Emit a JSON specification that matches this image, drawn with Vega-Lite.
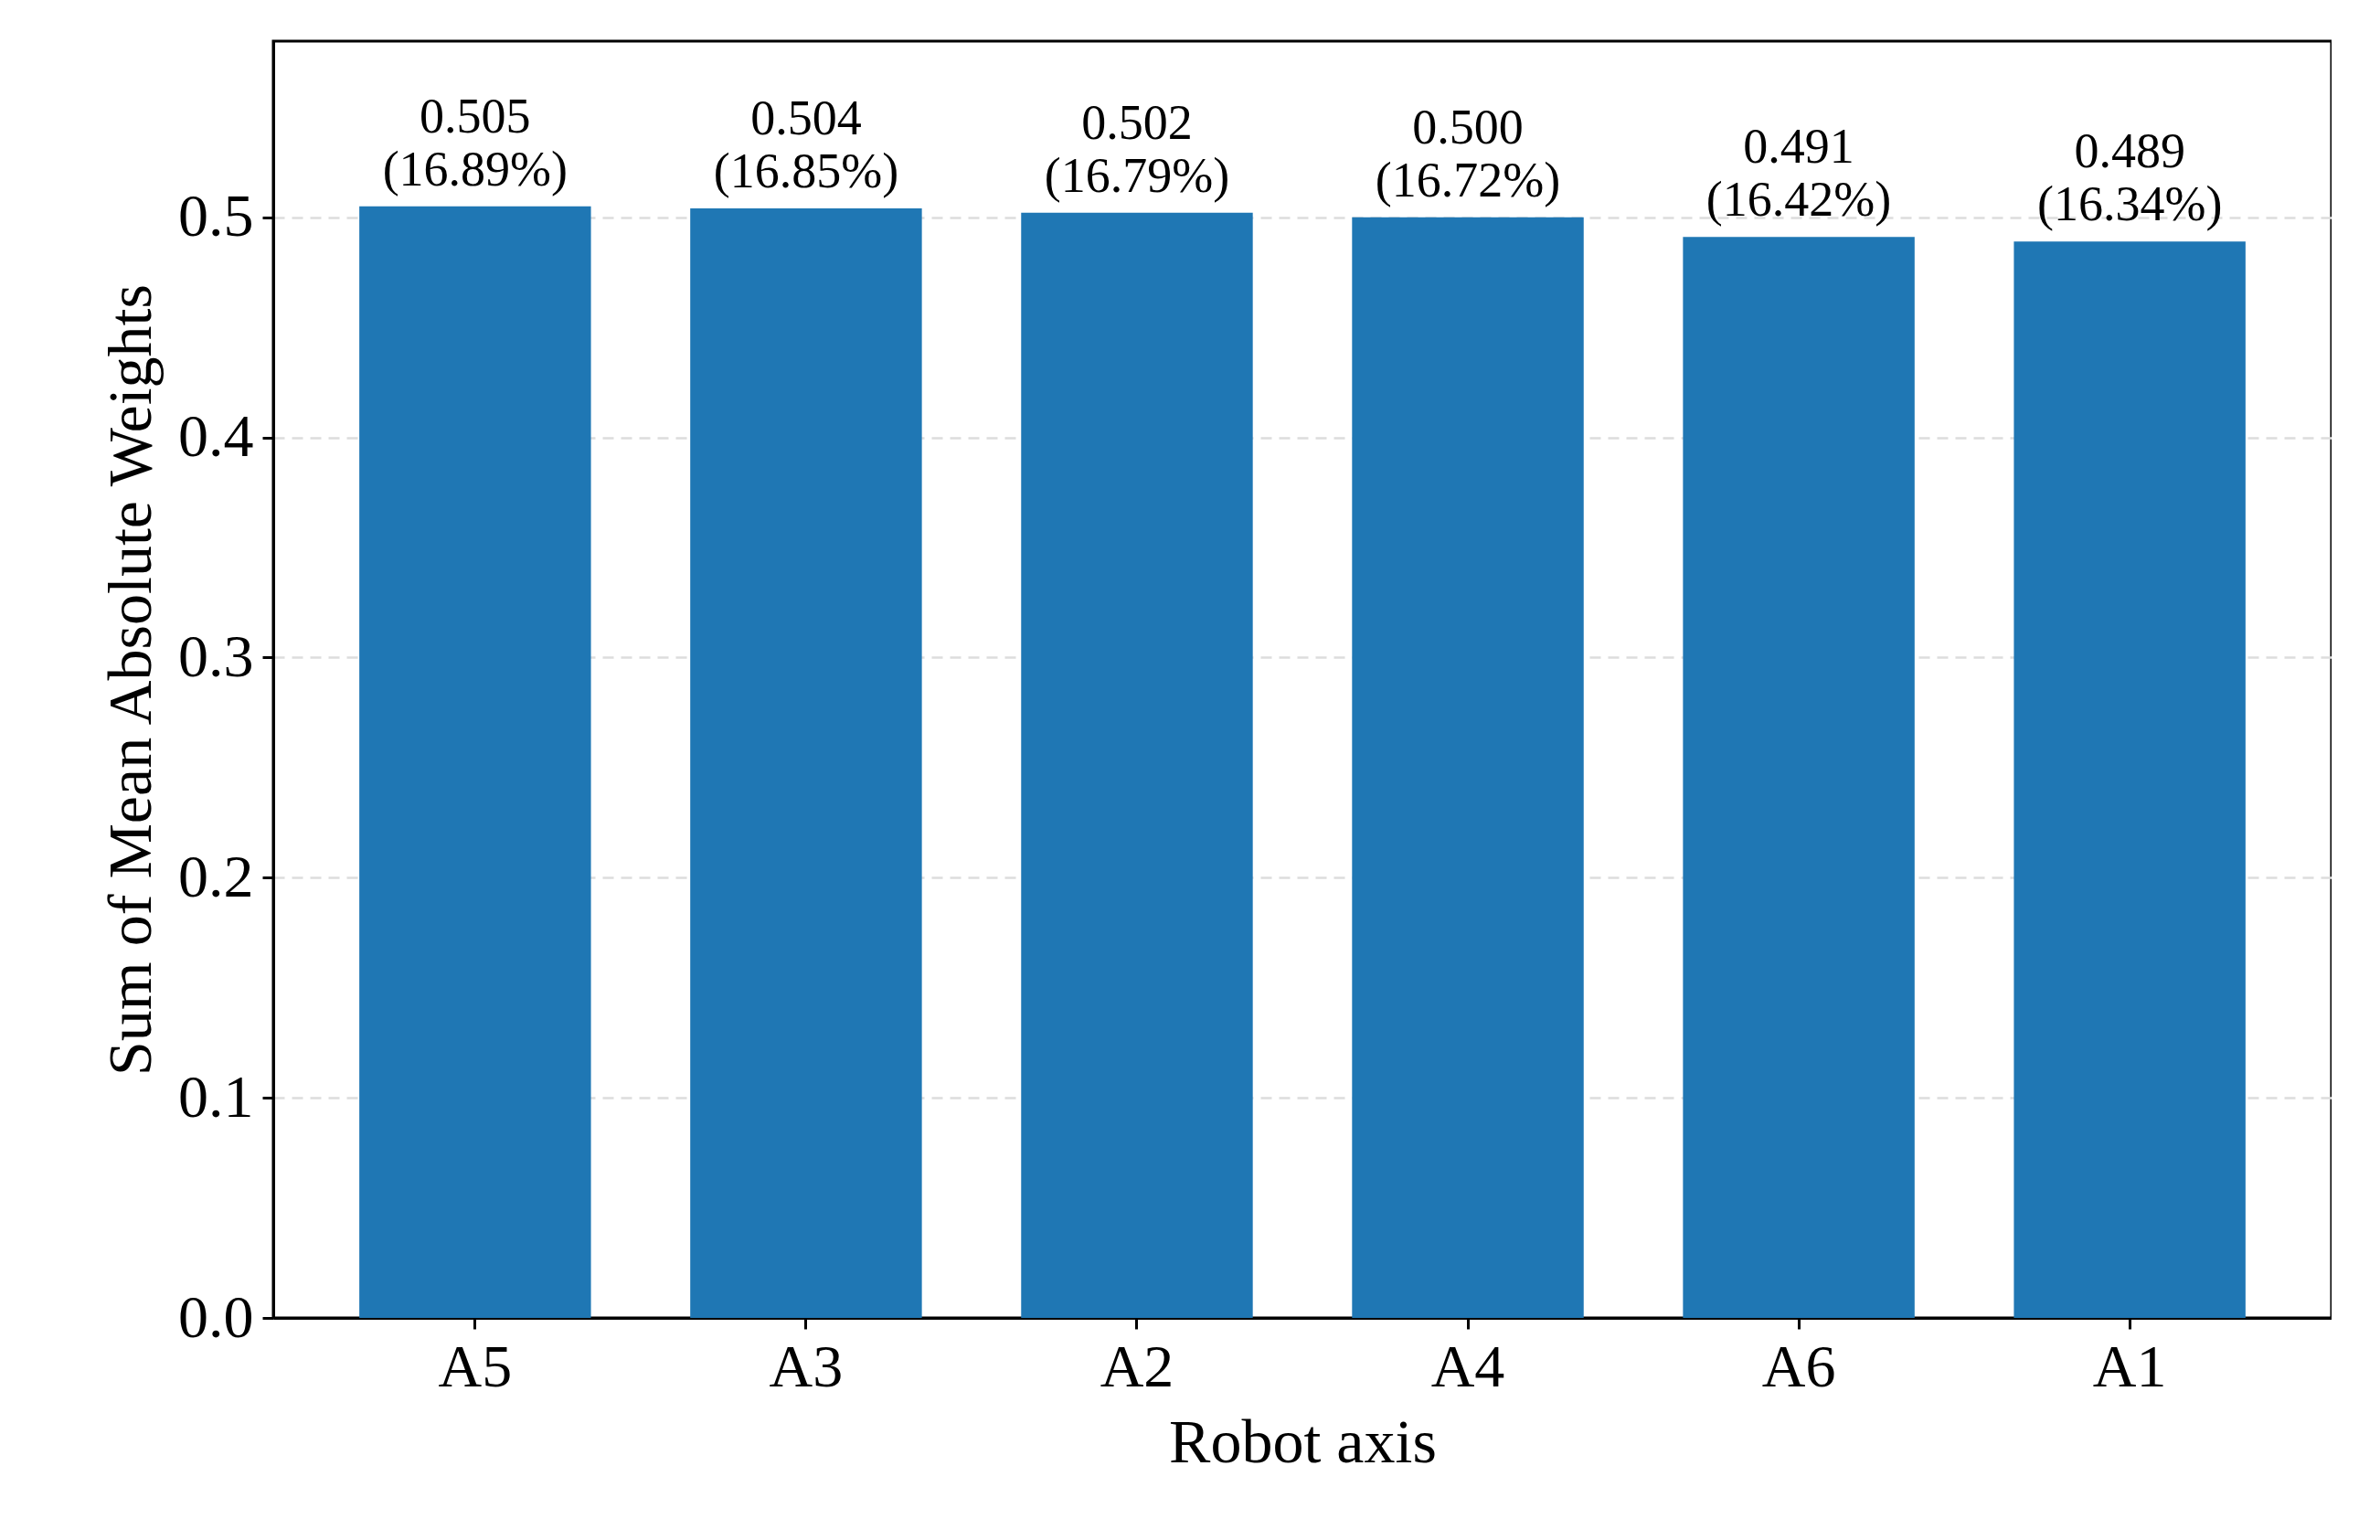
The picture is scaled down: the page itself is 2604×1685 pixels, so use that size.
{
  "$schema": "https://vega.github.io/schema/vega-lite/v6.json",
  "width": 2252,
  "height": 1397,
  "padding": {"left": 110, "top": 45, "right": 0, "bottom": 0},
  "background": "white",
  "data": {
    "values": [
      {"axis": "A5", "value": 0.505, "label": "0.505\n(16.89%)"},
      {"axis": "A3", "value": 0.504, "label": "0.504\n(16.85%)"},
      {"axis": "A2", "value": 0.502, "label": "0.502\n(16.79%)"},
      {"axis": "A4", "value": 0.500, "label": "0.500\n(16.72%)"},
      {"axis": "A6", "value": 0.491, "label": "0.491\n(16.42%)"},
      {"axis": "A1", "value": 0.489, "label": "0.489\n(16.34%)"}
    ]
  },
  "encoding": {
    "x": {
      "field": "axis",
      "type": "nominal",
      "sort": null,
      "title": "Robot axis",
      "scale": {"paddingInner": 0.3, "paddingOuter": 0.26},
      "axis": {"labelAngle": 0, "grid": false}
    },
    "y": {
      "field": "value",
      "type": "quantitative",
      "title": "Sum of Mean Absolute Weights",
      "scale": {"domain": [0, 0.58], "nice": false},
      "axis": {"values": [0, 0.1, 0.2, 0.3, 0.4, 0.5], "format": ".1f", "gridDash": [12, 8], "gridColor": "#dddddd", "gridWidth": 2.5}
    }
  },
  "layer": [
    {"mark": {"type": "bar", "color": "#1f77b4"}},
    {
      "mark": {"type": "text", "baseline": "bottom", "dy": -70, "font": "Liberation Serif", "fontSize": 54, "lineBreak": "\n", "lineHeight": 58, "color": "black"},
      "encoding": {"text": {"field": "label"}}
    }
  ],
  "config": {
    "font": "Liberation Serif",
    "view": {"stroke": "black", "strokeWidth": 3},
    "axis": {
      "labelFont": "Liberation Serif",
      "titleFont": "Liberation Serif",
      "labelFontSize": 66,
      "titleFontSize": 68,
      "titleFontWeight": "normal",
      "labelColor": "black",
      "titleColor": "black",
      "domainColor": "black",
      "domainWidth": 3,
      "tickColor": "black",
      "tickWidth": 3,
      "tickSize": 12,
      "labelPadding": 10,
      "titlePadding": 16
    }
  }
}
